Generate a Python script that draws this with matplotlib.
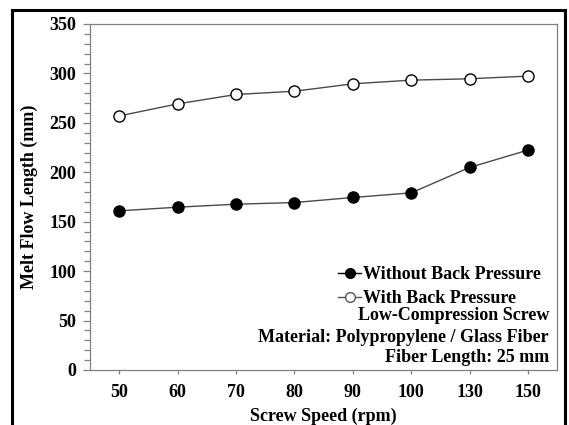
import matplotlib
matplotlib.use("Agg")
import matplotlib.pyplot as plt
from matplotlib.lines import Line2D
from matplotlib.ticker import MultipleLocator

plt.rcParams['font.family'] = ['Liberation Serif', 'DejaVu Serif']
plt.rcParams['font.weight'] = 'bold'

speeds = ["50", "60", "70", "80", "90", "100", "130", "150"]
without_bp = [161, 164.7, 167.7, 169.4, 174.5, 179.2, 204.9, 222.5]
with_bp = [257, 269.2, 278.7, 282, 289.5, 293.2, 294.6, 297.3]
series_labels = ["Without Back Pressure", "With Back Pressure"]
notes = ["Low-Compression Screw", "Material: Polypropylene / Glass Fiber", "Fiber Length: 25 mm"]

W, H = 569, 425
FS = 13
fig = plt.figure(figsize=(W / 100, H / 100), dpi=100)
ax = fig.add_axes([90 / W, 1 - 370 / H, (557.3 - 90) / W, (370 - 24) / H])

x = list(range(len(speeds)))
line_col = '#4a4a4a'
l1, = ax.plot(x, without_bp, '-', color=line_col, lw=1.0, marker='o', ms=8,
              mfc='black', mec='black', mew=1.0, label=series_labels[0])
l2, = ax.plot(x, with_bp, '-', color=line_col, lw=1.0, marker='o', ms=8,
              mfc='white', mec='black', mew=1.0, label=series_labels[1])

ax.set_xlim(-0.5, len(speeds) - 0.5)
ax.set_ylim(0, 350)
ax.set_xticks(x)
ax.set_xticklabels(speeds)
ax.yaxis.set_major_locator(MultipleLocator(50))
ax.yaxis.set_minor_locator(MultipleLocator(10))

spine_col = '#808080'
for s in ax.spines.values():
    s.set_color(spine_col)
    s.set_linewidth(0.9)
ax.tick_params(axis='y', which='major', direction='out', length=5, width=0.9,
               color=spine_col, labelsize=FS, pad=5)
ax.tick_params(axis='y', which='minor', direction='out', length=4, width=0.9,
               color=spine_col)
ax.tick_params(axis='x', which='major', direction='out', length=3, width=0.9,
               color=spine_col, labelsize=FS, pad=7)
for lab in ax.get_xticklabels() + ax.get_yticklabels():
    lab.set_fontweight('bold')

ax.set_xlabel("Screw Speed (rpm)", fontsize=FS, fontweight='bold', labelpad=5)
ax.set_ylabel("Melt Flow Length (mm)", fontsize=FS, fontweight='bold', labelpad=8)

h1 = Line2D([], [], color='black', lw=1.0, marker='o', ms=7, mfc='black', mec='black')
h2 = Line2D([], [], color='#555555', lw=1.0, marker='o', ms=7, mfc='white', mec='#555555')
leg = ax.legend([h1, h2], series_labels, loc='upper left',
                bbox_to_anchor=((338 - 90) / (557.3 - 90), 1 - (266 - 24) / 346),
                frameon=False, handlelength=1.3, handletextpad=0.1,
                labelspacing=0.38, borderpad=0, borderaxespad=0,
                prop={'family': 'Liberation Serif', 'weight': 'bold', 'size': FS})

note_y = [316, 337, 358]
for t, yy in zip(notes, note_y):
    fig.text(549 / W, 1 - yy / H, t, ha='right', va='center', fontsize=FS,
             fontweight='bold')

# outer frame
fl = 2.2
fig.add_artist(Line2D([12 / W, 12 / W], [0, 1 - 10 / H], transform=fig.transFigure,
                      color='black', lw=fl))
fig.add_artist(Line2D([565 / W, 565 / W], [0, 1 - 10 / H], transform=fig.transFigure,
                      color='black', lw=fl))
fig.add_artist(Line2D([12 / W, 565 / W], [1 - 10 / H, 1 - 10 / H], transform=fig.transFigure,
                      color='black', lw=fl, solid_capstyle='projecting'))

fig.savefig("out.png", dpi=100)
